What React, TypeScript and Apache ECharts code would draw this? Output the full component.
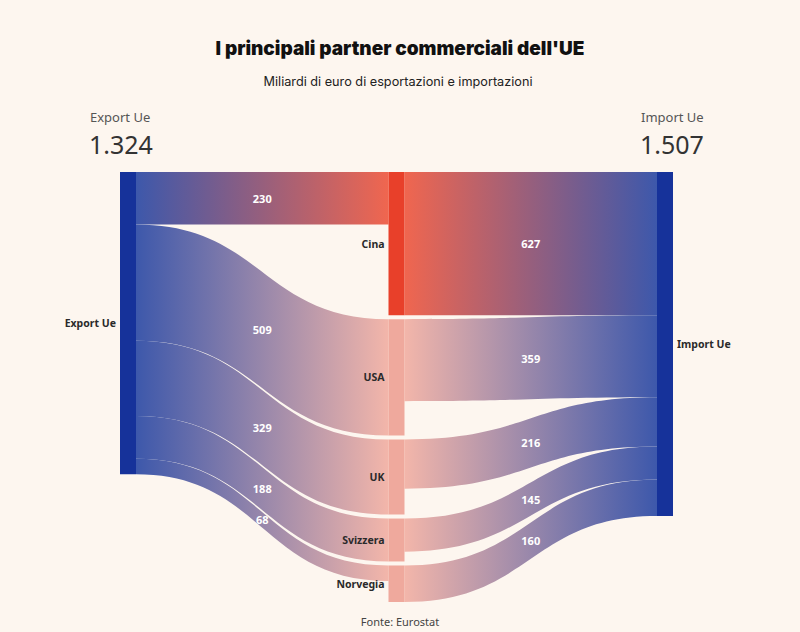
import React, { useEffect, useRef } from "react";
import * as echarts from "echarts";

const partners = ["Cina", "USA", "UK", "Svizzera", "Norvegia"];
const exportValues = [230, 509, 329, 188, 68];
const importValues = [627, 359, 216, 145, 160];
const sourceName = "Export Ue";
const targetName = "Import Ue";

const BLUE_NODE = "#16329a";
const BLUE_LINK = "#3d58ab";
const partnerNodeColors = ["#e8402a", "#efa99d", "#efa99d", "#efa99d", "#efa99d"];
const partnerLinkColors = ["#f0664f", "#f3b6aa", "#f3b6aa", "#f3b6aa", "#f3b6aa"];

const fmt = (n: number) => String(n).replace(/\B(?=(\d{3})+(?!\d))/g, ".");

function grad(a: string, b: string) {
  return new echarts.graphic.LinearGradient(0, 0, 1, 0, [
    { offset: 0, color: a },
    { offset: 1, color: b },
  ]);
}

export default function App() {
  const ref = useRef<HTMLDivElement>(null);
  useEffect(() => {
    if (!ref.current) return;
    const chart = echarts.init(ref.current, null, { renderer: "svg" });
    const nodeLabel = {
      fontSize: 10.5,
      fontWeight: "bold" as const,
      color: "#2a2a2a",
      fontFamily: "Noto Sans",
      distance: 4,
    };
    const nodes = [
      {
        name: sourceName,
        itemStyle: { color: BLUE_NODE },
        label: { ...nodeLabel, position: "left" },
      },
      ...partners.map((p, i) => ({
        name: p,
        itemStyle: { color: partnerNodeColors[i] },
        label: { ...nodeLabel, position: "left" },
      })),
      {
        name: targetName,
        itemStyle: { color: BLUE_NODE },
        label: { ...nodeLabel, position: "right" },
      },
    ];
    const links = [
      ...partners.map((p, i) => ({
        source: sourceName,
        target: p,
        value: exportValues[i],
        lineStyle: { color: grad(BLUE_LINK, partnerLinkColors[i]), opacity: 1 },
      })),
      ...partners.map((p, i) => ({
        source: p,
        target: targetName,
        value: importValues[i],
        lineStyle: { color: grad(partnerLinkColors[i], BLUE_LINK), opacity: 1 },
      })),
    ];
    const exportTotal = exportValues.reduce((a, b) => a + b, 0);
    const importTotal = importValues.reduce((a, b) => a + b, 0);
    chart.setOption({
      animation: false,
      backgroundColor: "#fdf6ef",
      graphic: [
        {
          type: "text",
          x: 400,
          y: 48,
          style: {
            text: "I principali partner commerciali dell'UE",
            fontSize: 19,
            fontWeight: 900,
            fontFamily: "Inter",
            fill: "#111",
            align: "center",
            verticalAlign: "middle",
          },
        },
        {
          type: "text",
          x: 398,
          y: 81,
          style: {
            text: "Miliardi di euro di esportazioni e importazioni",
            fontSize: 12.7,
            fontFamily: "Inter",
            fill: "#222",
            align: "center",
            verticalAlign: "middle",
          },
        },
        {
          type: "text",
          x: 90,
          y: 117,
          style: { text: sourceName, fontSize: 13, fontFamily: "Noto Sans", fill: "#555", verticalAlign: "middle" },
        },
        {
          type: "text",
          x: 89,
          y: 144,
          style: { text: fmt(exportTotal), fontSize: 25, fontFamily: "Noto Sans", fill: "#333", verticalAlign: "middle" },
        },
        {
          type: "text",
          x: 641,
          y: 117,
          style: { text: targetName, fontSize: 13, fontFamily: "Noto Sans", fill: "#555", verticalAlign: "middle" },
        },
        {
          type: "text",
          x: 640,
          y: 144,
          style: { text: fmt(importTotal), fontSize: 25, fontFamily: "Noto Sans", fill: "#333", verticalAlign: "middle" },
        },
        {
          type: "text",
          x: 400,
          y: 621,
          style: {
            text: "Fonte: Eurostat",
            fontSize: 11,
            fontFamily: "Noto Sans",
            fill: "#444",
            align: "center",
            verticalAlign: "middle",
          },
        },
      ],
      series: [
        {
          type: "sankey",
          left: 120,
          right: 127,
          top: 172,
          bottom: 30,
          nodeWidth: 16,
          nodeGap: 4,
          layoutIterations: 0,
          draggable: false,
          emphasis: { disabled: true },
          lineStyle: { curveness: 0.5, opacity: 1 },
          label: nodeLabel,
          edgeLabel: {
            show: true,
            formatter: "{c}",
            color: "#fff",
            fontSize: 11,
            fontWeight: "bold",
            fontFamily: "Noto Sans",
          },
          data: nodes,
          links,
        },
      ],
    });
    return () => chart.dispose();
  }, []);
  return (
    <div
      ref={ref}
      style={{ position: "fixed", left: 0, top: 0, width: 800, height: 632 }}
    />
  );
}
